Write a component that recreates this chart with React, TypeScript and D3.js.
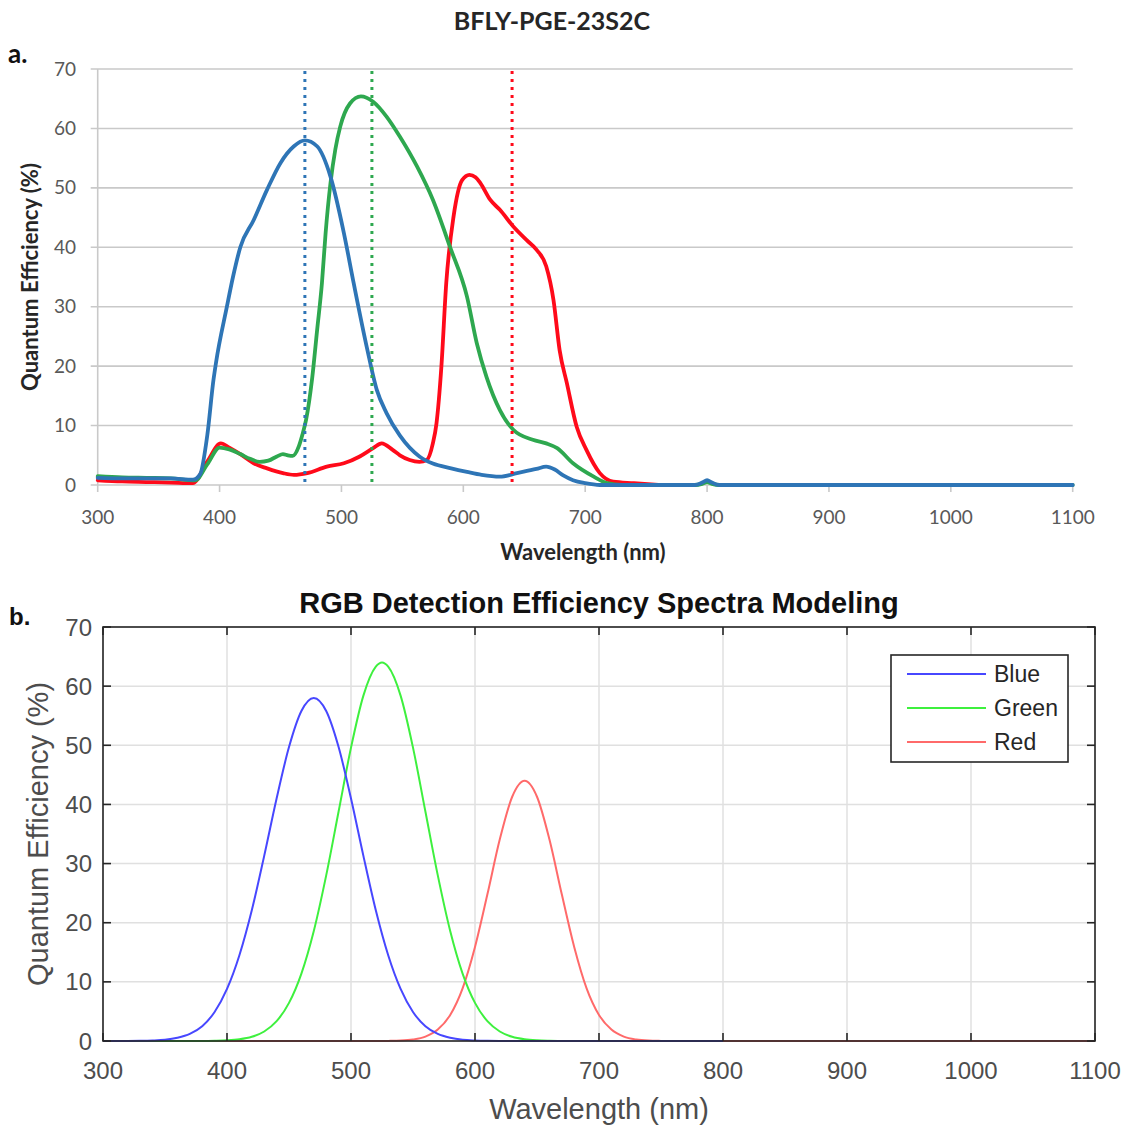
import React from "react";
import * as d3 from "d3";

// ---------- Panel a: measured BFLY-PGE-23S2C quantum efficiency ----------
const blueNmA = [300, 320, 340, 360, 378, 384, 390, 395, 397, 406, 411, 417, 428, 439, 450, 461, 470, 480, 491, 502, 510, 521, 529, 537, 548, 564, 575, 590, 603, 615, 630, 644, 660, 668, 675, 682, 690, 700, 712, 790, 796, 800, 804, 810, 1100];
const blueQeA = [1.2, 1.1, 1.1, 1.1, 0.9, 1.8, 8.5, 17.7, 20.5, 30, 35, 40, 44.6, 49.7, 54.2, 57, 58, 57, 51.9, 42.4, 34, 23, 16, 12.1, 8.3, 4.8, 3.6, 2.8, 2.2, 1.7, 1.4, 2.0, 2.7, 3.1, 2.6, 1.6, 0.8, 0.3, 0, 0, 0.4, 0.8, 0.4, 0, 0];

const greenNmA = [300, 320, 340, 360, 380, 390, 400, 408, 417, 425, 433, 440, 447, 452, 456, 460, 465, 468, 471, 476, 480, 484, 487, 491, 495, 499, 507, 516, 526, 537, 548, 562, 575, 589, 603, 611, 619, 630, 641, 657, 668, 677, 690, 707, 718, 730, 790, 796, 800, 804, 810, 1100];
const greenQeA = [1.5, 1.3, 1.2, 1.1, 0.8, 3.5, 6.3, 6.0, 5.2, 4.4, 3.9, 4.1, 4.8, 5.2, 5.0, 4.9, 6.5, 8.5, 11, 18, 26, 34, 42.4, 50.8, 56.5, 60.3, 64.2, 65.4, 64.5, 62, 58.6, 53.6, 48, 40.1, 31.7, 23.9, 18.2, 12.6, 9.3, 7.6, 7.0, 6.2, 3.65, 1.4, 0.3, 0, 0, 0.2, 0.5, 0.2, 0, 0];

const redNmA = [300, 320, 340, 360, 378, 390, 401, 408, 417, 428, 439, 452, 461, 472, 488, 502, 515, 526, 533, 542, 548, 556, 564, 570, 575, 578, 582, 586, 592, 599, 605, 610, 614, 622, 630, 641, 652, 660, 668, 674, 679, 685, 693, 701, 712, 723, 740, 760];
const redQeA = [0.8, 0.6, 0.5, 0.4, 0.3, 4.0, 7.0, 6.3, 5.2, 3.65, 2.8, 2.0, 1.7, 2.0, 3.1, 3.65, 4.8, 6.2, 7.0, 5.9, 5.0, 4.2, 3.9, 4.2, 7, 10.4, 19.9, 34, 45.2, 51.3, 52.2, 51.8, 50.8, 48, 46.3, 43.5, 41.2, 39.6, 36.8, 31.1, 22.7, 17.1, 9.8, 5.9, 2.0, 0.56, 0.3, 0];

// peak wavelengths marked by dotted lines
const peakNm = [470, 525, 640];

// ---------- Panel b: modelled RGB detection efficiency ----------
const blueNmB = [300, 310, 320, 330, 340, 350, 360, 370, 380, 390, 400, 410, 420, 430, 440, 450, 460, 470, 480, 490, 500, 510, 520, 530, 540, 550, 560, 570, 580, 590, 600, 610, 620, 630, 800];
const blueQeB = [0, 0, 0.01, 0.03, 0.09, 0.22, 0.55, 1.2, 2.5, 4.9, 8.8, 14.5, 22.1, 31.3, 41.0, 49.7, 55.8, 58, 55.8, 49.7, 41.0, 31.3, 22.1, 14.5, 8.8, 4.9, 2.5, 1.2, 0.55, 0.22, 0.09, 0.03, 0.01, 0, 0];

const greenNmB = [300, 380, 390, 400, 410, 420, 430, 440, 450, 460, 470, 480, 490, 500, 510, 520, 525, 530, 540, 550, 560, 570, 580, 590, 600, 610, 620, 630, 640, 650, 660, 670, 680, 800];
const greenQeB = [0, 0.01, 0.04, 0.11, 0.29, 0.71, 1.61, 3.35, 6.44, 11.4, 18.6, 28.0, 38.8, 49.6, 58.4, 63.3, 64, 63.3, 58.4, 49.6, 38.8, 28.0, 18.6, 11.4, 6.44, 3.35, 1.61, 0.71, 0.29, 0.11, 0.04, 0.01, 0, 0];

const redNmB = [300, 520, 530, 540, 550, 560, 570, 580, 590, 600, 610, 620, 630, 640, 650, 660, 670, 680, 690, 700, 710, 720, 730, 740, 750, 760, 1100];
const redQeB = [0, 0, 0.02, 0.07, 0.25, 0.74, 1.93, 4.4, 8.9, 15.9, 24.8, 34.1, 41.3, 44, 41.3, 34.1, 24.8, 15.9, 8.9, 4.4, 1.93, 0.74, 0.25, 0.07, 0.02, 0, 0];

const legendNames = ["Blue", "Green", "Red"];

const xTicks = [300, 400, 500, 600, 700, 800, 900, 1000, 1100];
const yTicks = [0, 10, 20, 30, 40, 50, 60, 70];

const colorsA = ["#2e75b6", "#2ea84f", "#ff0a1a"];
const colorsB = ["#4747ff", "#3ef03e", "#ff6a6a"];

type Pt = [number, number];
const zip = (xs: number[], ys: number[]): Pt[] => xs.map((x, i) => [x, ys[i]]);

export default function App() {
  // scales
  const xA = d3.scaleLinear().domain([300, 1100]).range([97.7, 1072.7]);
  const yA = d3.scaleLinear().domain([0, 70]).range([485, 69]);
  const xB = d3.scaleLinear().domain([300, 1100]).range([103, 1095]);
  const yB = d3.scaleLinear().domain([0, 70]).range([1041, 627]);

  const lineA = d3
    .line<Pt>()
    .x((d) => xA(d[0]))
    .y((d) => yA(d[1]))
    .curve(d3.curveMonotoneX);
  const lineB = d3
    .line<Pt>()
    .x((d) => xB(d[0]))
    .y((d) => yB(d[1]))
    .curve(d3.curveMonotoneX);

  const seriesA = [
    { pts: zip(redNmA, redQeA), c: colorsA[2] },
    { pts: zip(greenNmA, greenQeA), c: colorsA[1] },
    { pts: zip(blueNmA, blueQeA), c: colorsA[0] },
  ];
  const seriesB = [
    { pts: zip(redNmB, redQeB), c: colorsB[2] },
    { pts: zip(greenNmB, greenQeB), c: colorsB[1] },
    { pts: zip(blueNmB, blueQeB), c: colorsB[0] },
  ];

  const fontA = "Lato, 'Open Sans', sans-serif";
  const fontB = "'Liberation Sans', Arial, Helvetica, sans-serif";
  const gridA = "#c9c9c9";
  const textA = "#595959";
  const textB = "#4d4d4d";
  const frameB = "#262626";

  const [x0A, x1A] = xA.range();
  const [y0A, y1A] = yA.range();
  const [x0B, x1B] = xB.range();
  const [y0B, y1B] = yB.range();

  return (
    <svg
      width={1129}
      height={1127}
      style={{ position: "absolute", left: 0, top: 0, background: "#fff" }}
    >
      <rect x={0} y={0} width={1129} height={1127} fill="#fff" />
      {/* ================= Panel a ================= */}
      <text x={552} y={30} textAnchor="middle" fontFamily={fontA} fontWeight={700} fontSize={25} fill="#262626">
        BFLY-PGE-23S2C
      </text>
      <text x={8} y={63} fontFamily={fontA} fontWeight={700} fontSize={26} fill="#111">
        a.
      </text>
      {/* gridlines + y ticks */}
      {yTicks.map((t) => (
        <line key={"ga" + t} x1={x0A - 7} x2={x1A} y1={yA(t)} y2={yA(t)} stroke={gridA} strokeWidth={1.6} />
      ))}
      {/* y axis line */}
      <line x1={x0A} x2={x0A} y1={y1A} y2={y0A} stroke={gridA} strokeWidth={1.6} />
      {/* x ticks */}
      {xTicks.map((t) => (
        <line key={"xta" + t} x1={xA(t)} x2={xA(t)} y1={y0A} y2={y0A + 7} stroke={gridA} strokeWidth={1.6} />
      ))}
      {yTicks.map((t) => (
        <text key={"yla" + t} x={76} y={yA(t) + 6.5} textAnchor="end" fontFamily={fontA} fontSize={19} fill={textA}>
          {t}
        </text>
      ))}
      {xTicks.map((t) => (
        <text key={"xla" + t} x={xA(t)} y={524} textAnchor="middle" fontFamily={fontA} fontSize={19} fill={textA}>
          {t}
        </text>
      ))}
      <text x={583} y={560} textAnchor="middle" fontFamily={fontA} fontWeight={700} fontSize={22} fill="#262626">
        Wavelength (nm)
      </text>
      <text
        transform={`translate(38,277) rotate(-90)`}
        textAnchor="middle"
        fontFamily={fontA}
        fontWeight={700}
        fontSize={22}
        fill="#262626"
      >
        Quantum Efficiency (%)
      </text>
      {/* curves */}
      {seriesA.map((s, i) => (
        <path key={"ca" + i} d={lineA(s.pts) || ""} fill="none" stroke={s.c} strokeWidth={3.8} strokeLinejoin="round" strokeLinecap="round" />
      ))}
      {/* dotted peak markers */}
      {peakNm.map((p, i) => (
        <line
          key={"pk" + i}
          x1={xA(p)}
          x2={xA(p)}
          y1={y1A + 2}
          y2={y0A}
          stroke={colorsA[i]}
          strokeWidth={3}
          strokeDasharray="3 5"
        />
      ))}

      {/* ================= Panel b ================= */}
      <text x={599} y={613} textAnchor="middle" fontFamily={fontB} fontWeight={700} fontSize={29} fill="#111">
        RGB Detection Efficiency Spectra Modeling
      </text>
      <text x={9} y={625} fontFamily={fontB} fontWeight={700} fontSize={24} fill="#111">
        b.
      </text>
      {/* grid */}
      {yTicks.map((t) => (
        <line key={"gyb" + t} x1={x0B} x2={x1B} y1={yB(t)} y2={yB(t)} stroke="#e0e0e0" strokeWidth={1.5} />
      ))}
      {xTicks.map((t) => (
        <line key={"gxb" + t} x1={xB(t)} x2={xB(t)} y1={y1B} y2={y0B} stroke="#e0e0e0" strokeWidth={1.5} />
      ))}
      {/* curves */}
      {seriesB.map((s, i) => (
        <path key={"cb" + i} d={lineB(s.pts) || ""} fill="none" stroke={s.c} strokeWidth={2} />
      ))}
      {/* frame */}
      <rect x={x0B} y={y1B} width={x1B - x0B} height={y0B - y1B} fill="none" stroke={frameB} strokeWidth={1.6} />
      {/* inward ticks */}
      {xTicks.map((t) => (
        <g key={"xtb" + t}>
          <line x1={xB(t)} x2={xB(t)} y1={y0B} y2={y0B - 8} stroke={frameB} strokeWidth={1.6} />
          <line x1={xB(t)} x2={xB(t)} y1={y1B} y2={y1B + 8} stroke={frameB} strokeWidth={1.6} />
        </g>
      ))}
      {yTicks.map((t) => (
        <g key={"ytb" + t}>
          <line x1={x0B} x2={x0B + 8} y1={yB(t)} y2={yB(t)} stroke={frameB} strokeWidth={1.6} />
          <line x1={x1B} x2={x1B - 8} y1={yB(t)} y2={yB(t)} stroke={frameB} strokeWidth={1.6} />
        </g>
      ))}
      {yTicks.map((t) => (
        <text key={"ylb" + t} x={92} y={yB(t) + 8.5} textAnchor="end" fontFamily={fontB} fontSize={24} fill={textB}>
          {t}
        </text>
      ))}
      {xTicks.map((t) => (
        <text key={"xlb" + t} x={xB(t)} y={1079} textAnchor="middle" fontFamily={fontB} fontSize={24} fill={textB}>
          {t}
        </text>
      ))}
      <text x={599} y={1119} textAnchor="middle" fontFamily={fontB} fontSize={29} fill={textB}>
        Wavelength (nm)
      </text>
      <text
        transform={`translate(48,834) rotate(-90)`}
        textAnchor="middle"
        fontFamily={fontB}
        fontSize={29}
        fill={textB}
      >
        Quantum Efficiency (%)
      </text>
      {/* legend */}
      <rect x={891} y={655} width={177} height={107} fill="#fff" stroke={frameB} strokeWidth={1.6} />
      {legendNames.map((n, i) => (
        <g key={"lg" + n}>
          <line x1={907} x2={986} y1={674 + i * 34} y2={674 + i * 34} stroke={colorsB[i]} strokeWidth={2} />
          <text x={994} y={682 + i * 34} fontFamily={fontB} fontSize={23} fill="#262626">
            {n}
          </text>
        </g>
      ))}
    </svg>
  );
}
